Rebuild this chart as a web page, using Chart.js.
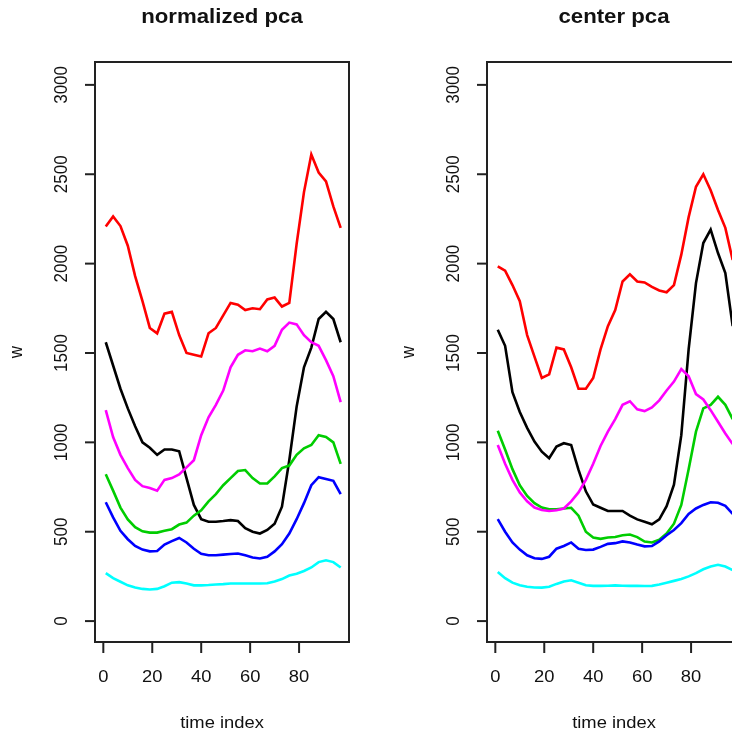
<!DOCTYPE html>
<html>
<head>
<meta charset="utf-8">
<title>normalized pca / center pca</title>
<script src="https://cdn.jsdelivr.net/npm/chart.js@4.4.0/dist/chart.umd.min.js"></script>
<style>
  html, body { margin: 0; padding: 0; background: #fff; overflow: hidden; width: 732px; height: 734px; }
  .panel { position: absolute; top: 0; width: 392px; height: 734px; }
  #left { left: 0; }
  #right { left: 392px; }
</style>
</head>
<body>
<div class="panel" id="left"><canvas id="normChart" width="392" height="734"></canvas></div>
<div class="panel" id="right"><canvas id="centerChart" width="392" height="734"></canvas></div>
<script>
// --- Data ---
const timeIdx = [1, 4, 7, 10, 13, 16, 19, 22, 25, 28, 31, 34, 37, 40, 43, 46, 49,
                 52, 55, 58, 61, 64, 67, 70, 73, 76, 79, 82, 85, 88, 91, 94, 97];

const xTicks = [0, 20, 40, 60, 80];
const yTicks = [0, 500, 1000, 1500, 2000, 2500, 3000];

// normalized pca
const normRed     = [2208, 2264, 2210, 2100, 1930, 1790, 1640, 1610, 1720, 1730, 1600, 1500, 1490, 1480, 1610, 1640, 1710,
                     1780, 1770, 1740, 1750, 1745, 1800, 1810, 1760, 1780, 2110, 2400, 2610, 2510, 2460, 2320, 2200];
const normBlack   = [1560, 1430, 1300, 1190, 1090, 1000, 970, 930, 960, 960, 950, 800, 650, 570, 556, 556, 560,
                     565, 560, 520, 500, 490, 510, 545, 640, 900, 1200, 1420, 1530, 1690, 1730, 1690, 1560];
const normMagenta = [1180, 1030, 930, 856, 790, 755, 745, 730, 790, 800, 820, 860, 900, 1040, 1140, 1210, 1290,
                     1420, 1490, 1515, 1510, 1525, 1510, 1540, 1630, 1670, 1660, 1600, 1560, 1540, 1460, 1370, 1225];
const normGreen   = [822, 730, 635, 569, 525, 502, 495, 495, 505, 514, 540, 551, 590, 620, 670, 710, 760,
                     800, 840, 845, 800, 770, 770, 810, 856, 870, 930, 967, 985, 1040, 1030, 1000, 880];
const normBlue    = [665, 580, 505, 458, 420, 400, 390, 392, 428, 447, 465, 440, 405, 377, 368, 368, 372,
                     375, 378, 368, 356, 350, 360, 390, 430, 490, 570, 660, 760, 805, 795, 785, 710];
const normCyan    = [268, 240, 220, 200, 188, 180, 177, 180, 195, 215, 218, 210, 200, 200, 202, 205, 207,
                     210, 210, 210, 210, 210, 212, 222, 235, 255, 265, 280, 300, 330, 340, 330, 300];

// center pca
const centRed     = [1985, 1960, 1880, 1790, 1600, 1480, 1360, 1380, 1530, 1520, 1420, 1300, 1300, 1360, 1520, 1650, 1740,
                     1900, 1940, 1900, 1895, 1870, 1850, 1840, 1880, 2050, 2260, 2430, 2500, 2410, 2300, 2200, 2020];
const centBlack   = [1630, 1540, 1281, 1170, 1081, 1004, 948, 911, 976, 995, 985, 846, 726, 652, 634, 616, 616,
                     616, 590, 569, 556, 542, 569, 643, 763, 1040, 1520, 1891, 2115, 2190, 2059, 1947, 1650];
const centMagenta = [985, 880, 790, 720, 670, 635, 622, 616, 620, 630, 670, 720, 790, 880, 980, 1060, 1130,
                     1210, 1230, 1185, 1175, 1195, 1235, 1290, 1340, 1410, 1370, 1270, 1240, 1180, 1115, 1050, 990];
const centGreen   = [1065, 960, 850, 760, 700, 660, 635, 625, 625, 630, 634, 590, 500, 468, 460, 468, 470,
                     480, 484, 470, 445, 440, 455, 490, 545, 650, 850, 1060, 1190, 1210, 1255, 1210, 1130];
const centBlue    = [570, 500, 440, 400, 368, 352, 348, 360, 405, 420, 440, 405, 398, 400, 415, 432, 436,
                     446, 440, 428, 418, 420, 446, 480, 510, 548, 600, 630, 650, 665, 662, 645, 600];
const centCyan    = [275, 240, 215, 200, 192, 188, 187, 192, 208, 222, 228, 215, 200, 197, 197, 198, 200,
                     198, 197, 197, 196, 197, 205, 215, 225, 235, 250, 268, 290, 305, 315, 305, 285];

// --- Colours (R default palette) ---
const seriesColors = {
    black: '#000000',
    red: '#FF0000',
    green: '#00CD00',
    blue: '#0000FF',
    cyan: '#00FFFF',
    magenta: '#FF00FF'
};

const FONT = '"Liberation Sans", Arial, Helvetica, sans-serif';

// text in the reference is a little wider than it is tall
function drawText(ctx, text, x, y, font, sx, rotated) {
    ctx.save();
    ctx.font = font;
    ctx.translate(x, y);
    ctx.scale(sx, 1);
    if (rotated) ctx.rotate(-Math.PI / 2);
    ctx.fillText(text, 0, 0);
    ctx.restore();
}

// R-style box, ticks and labels, drawn from the chart's own scales
const rAxesPlugin = {
    id: 'rAxes',
    afterDraw(chart, args, opts) {
        const { ctx, chartArea: a } = chart;
        const x = chart.scales.x;
        const y = chart.scales.y;
        const tickFont = '17px ' + FONT;
        ctx.save();
        ctx.strokeStyle = '#222';
        ctx.lineWidth = 2;
        ctx.strokeRect(a.left, a.top, a.right - a.left, a.bottom - a.top);

        ctx.fillStyle = '#111';
        ctx.textAlign = 'center';
        ctx.textBaseline = 'middle';

        // x axis
        xTicks.forEach(v => {
            const px = x.getPixelForValue(v);
            ctx.beginPath();
            ctx.moveTo(px, a.bottom);
            ctx.lineTo(px, a.bottom + 11);
            ctx.stroke();
            drawText(ctx, String(v), px, a.bottom + 35, tickFont, 1.08, false);
        });

        // y axis (labels parallel to the axis)
        yTicks.forEach(v => {
            const py = y.getPixelForValue(v);
            ctx.beginPath();
            ctx.moveTo(a.left, py);
            ctx.lineTo(a.left - 10, py);
            ctx.stroke();
            drawText(ctx, String(v), a.left - 33, py, tickFont, 1.08, true);
        });

        // axis titles
        const cx = (a.left + a.right) / 2;
        drawText(ctx, 'time index', cx, a.bottom + 81, tickFont, 1.08, false);
        drawText(ctx, 'w', a.left - 78, (a.top + a.bottom) / 2, tickFont, 1.08, true);

        // main title
        drawText(ctx, opts.title, cx, 17, 'bold 20px ' + FONT, 1.11, false);
        ctx.restore();
    }
};

function toPoints(values) {
    return values.map((v, i) => ({ x: timeIdx[i], y: v }));
}

function makeChart(canvasId, title, series) {
    // later entries end up on top (matplot order)
    const datasets = series.map((s, i) => ({
        label: s.name,
        data: toPoints(s.values),
        borderColor: seriesColors[s.name],
        borderWidth: 2.6,
        pointRadius: 0,
        tension: 0,
        fill: false,
        order: series.length - i
    }));

    return new Chart(document.getElementById(canvasId), {
        type: 'line',
        data: { datasets },
        options: {
            responsive: false,
            animation: false,
            layout: { padding: { left: 95, right: 43, top: 62, bottom: 92 } },
            scales: {
                x: { type: 'linear', display: false, min: -3.4, max: 100.4 },
                y: { type: 'linear', display: false, min: -117, max: 3128 }
            },
            plugins: {
                legend: { display: false },
                tooltip: { enabled: false },
                rAxes: { title }
            }
        },
        plugins: [rAxesPlugin]
    });
}

makeChart('normChart', 'normalized pca', [
    { name: 'black', values: normBlack },
    { name: 'red', values: normRed },
    { name: 'green', values: normGreen },
    { name: 'blue', values: normBlue },
    { name: 'cyan', values: normCyan },
    { name: 'magenta', values: normMagenta }
]);

makeChart('centerChart', 'center pca', [
    { name: 'black', values: centBlack },
    { name: 'red', values: centRed },
    { name: 'green', values: centGreen },
    { name: 'blue', values: centBlue },
    { name: 'cyan', values: centCyan },
    { name: 'magenta', values: centMagenta }
]);
</script>
</body>
</html>
